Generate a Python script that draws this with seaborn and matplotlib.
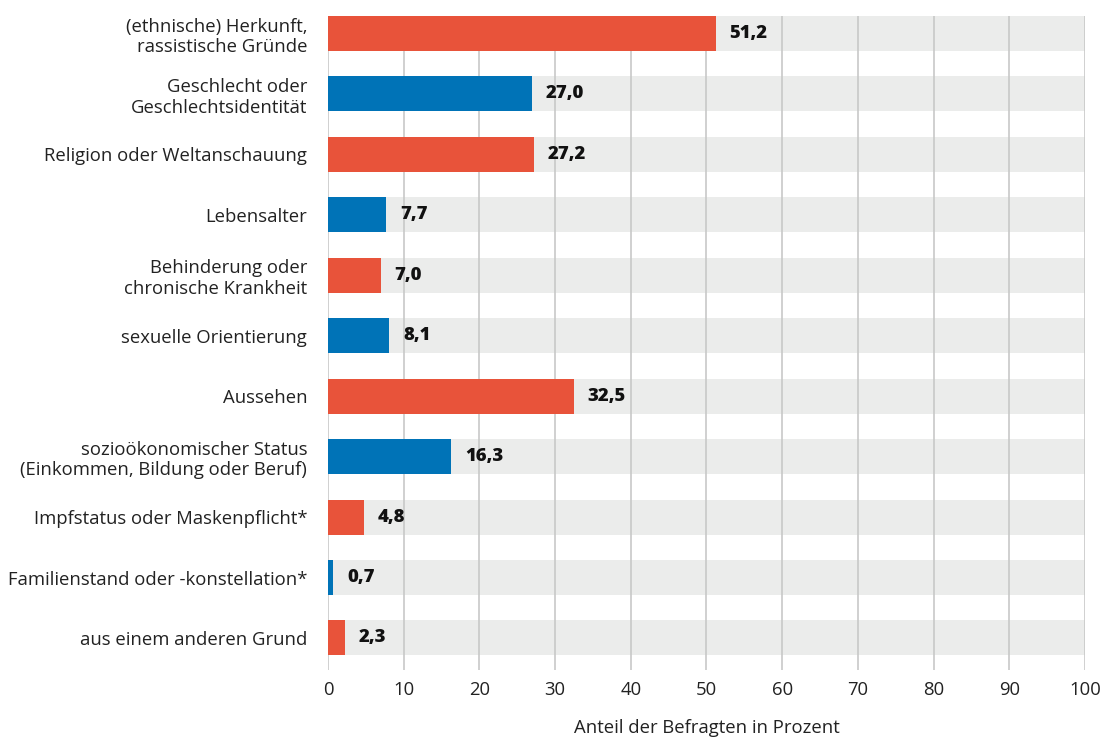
import matplotlib
matplotlib.use("Agg")
import matplotlib.pyplot as plt
import seaborn as sns
import pandas as pd

categories = [
    "(ethnische) Herkunft,\nrassistische Gründe",
    "Geschlecht oder\nGeschlechtsidentität",
    "Religion oder Weltanschauung",
    "Lebensalter",
    "Behinderung oder\nchronische Krankheit",
    "sexuelle Orientierung",
    "Aussehen",
    "sozioökonomischer Status\n(Einkommen, Bildung oder Beruf)",
    "Impfstatus oder Maskenpflicht*",
    "Familienstand oder -konstellation*",
    "aus einem anderen Grund",
]
values = [51.2, 27.0, 27.2, 7.7, 7.0, 8.1, 32.5, 16.3, 4.8, 0.7, 2.3]
xticks = [0, 10, 20, 30, 40, 50, 60, 70, 80, 90, 100]
xlabel = "Anteil der Befragten in Prozent"

RED = "#E8533A"
BLUE = "#0073B7"
colors = [RED if i % 2 == 0 else BLUE for i in range(len(categories))]

sns.set_theme(style="white")
plt.rcParams["font.family"] = ["Open Sans", "DejaVu Sans"]

fig = plt.figure(figsize=(11.05, 7.4), dpi=100)
ax = fig.add_axes([0.2968, 0.0946, 0.6851, 0.8838])

df = pd.DataFrame({"cat": categories, "val": values})
bar_h = 0.58
FS = 13.3

# background bands
ax.barh(range(len(categories)), [xticks[-1]] * len(categories), height=bar_h,
        color="#EBECEB", zorder=0, linewidth=0)
for t in xticks:
    ax.axvline(t, color="#C8C8C8", lw=1.2, zorder=1)

sns.barplot(data=df, x="val", y="cat", hue="cat", palette=colors, legend=False,
            width=bar_h, ax=ax, zorder=2, saturation=1, linewidth=0, edgecolor="none")

for i, v in enumerate(values):
    ax.text(v + 1.8, i, f"{v:.1f}".replace(".", ","), va="center", ha="left",
            fontsize=FS, fontweight=800, color="#111111", zorder=3)

ax.set_xlim(0, 100)
ax.set_ylim(10.53, -0.29)
ax.set_xticks(xticks)
ax.set_xticklabels([str(t) for t in xticks], fontsize=FS, color="#222222")
ax.tick_params(axis="x", length=0, pad=8)
ax.tick_params(axis="y", length=0, pad=15)
for lab in ax.get_yticklabels():
    lab.set_fontsize(FS)
    lab.set_color("#222222")
    lab.set_horizontalalignment("right")
    lab.set_multialignment("right")
ax.set_ylabel("")
ax.set_xlabel(xlabel, fontsize=FS, color="#222222", labelpad=14)
for s in ax.spines.values():
    s.set_visible(False)

fig.savefig("out.png", dpi=100)
